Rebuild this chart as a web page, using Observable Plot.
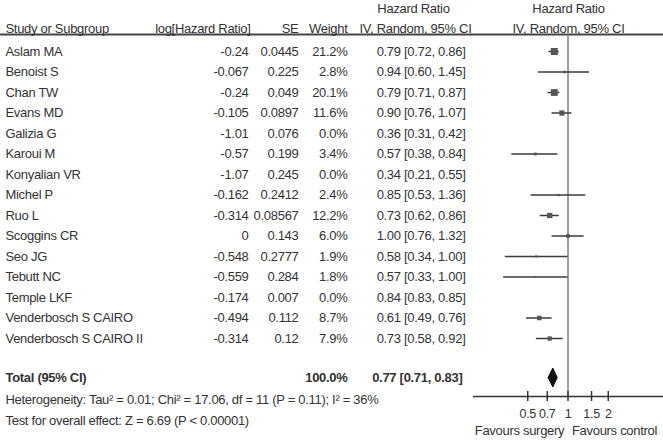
<!DOCTYPE html>
<html>
<head>
<meta charset="utf-8">
<script src="https://cdn.jsdelivr.net/npm/d3@7"></script>
<script src="https://cdn.jsdelivr.net/npm/@observablehq/plot@0.6"></script>
<style>
  html, body { margin: 0; padding: 0; background: #fff; }
  #chart svg { display: block; }
</style>
</head>
<body>
<div id="chart"></div>
<script>
// ---- data ----
const studies = ["Aslam MA", "Benoist S", "Chan TW", "Evans MD", "Galizia G", "Karoui M", "Konyalian VR", "Michel P", "Ruo L", "Scoggins CR", "Seo JG", "Tebutt NC", "Temple LKF", "Venderbosch S CAIRO", "Venderbosch S CAIRO II"];
const logHR = ["-0.24", "-0.067", "-0.24", "-0.105", "-1.01", "-0.57", "-1.07", "-0.162", "-0.314", "0", "-0.548", "-0.559", "-0.174", "-0.494", "-0.314"];
const se = ["0.0445", "0.225", "0.049", "0.0897", "0.076", "0.199", "0.245", "0.2412", "0.08567", "0.143", "0.2777", "0.284", "0.007", "0.112", "0.12"];
const weight = [21.2, 2.8, 20.1, 11.6, 0.0, 3.4, 0.0, 2.4, 12.2, 6.0, 1.9, 1.8, 0.0, 8.7, 7.9];
const hr = [0.79, 0.94, 0.79, 0.90, 0.36, 0.57, 0.34, 0.85, 0.73, 1.00, 0.58, 0.57, 0.84, 0.61, 0.73];
const lo = [0.72, 0.60, 0.71, 0.76, 0.31, 0.38, 0.21, 0.53, 0.62, 0.76, 0.34, 0.33, 0.83, 0.49, 0.58];
const hi = [0.86, 1.45, 0.87, 1.07, 0.42, 0.84, 0.55, 1.36, 0.86, 1.32, 1.00, 1.00, 0.85, 0.76, 0.92];
const total = {label: "Total (95% CI)", weight: 100.0, hr: 0.77, lo: 0.71, hi: 0.83};
const heterogeneity = "Heterogeneity: Tau\u00B2 = 0.01; Chi\u00B2 = 17.06, df = 11 (P = 0.11); I\u00B2 = 36%";
const overall = "Test for overall effect: Z = 6.69 (P < 0.00001)";
const xTicks = [0.5, 0.7, 1, 1.5, 2];
const favours = ["Favours surgery", "Favours control"];
const headers = {study: "Study or Subgroup", logHR: "log[Hazard Ratio]", se: "SE", weight: "Weight", hr1: "Hazard Ratio", hr2: "IV, Random, 95% CI"};

// ---- layout ----
const W = 663, H = 440;
const FONT = "'Liberation Sans', Arial, sans-serif";
const FS = 13;
const INK = "#333";
const row0 = 51, step = 20.5;              // pixel centre of row 0 and row spacing
const rowAt = px => (px - row0) / step;       // convert a pixel y to row units
const mLeft = 474, mRight = 2, mTop = 35, mBottom = 44;
const axisRow = rowAt(H - mBottom);

const rows = studies.map((s, i) => ({
  i, study: s, logHR: logHR[i], se: se[i], weight: weight[i],
  hr: hr[i], lo: lo[i], hi: hi[i],
  w: weight[i].toFixed(1) + "%",
  ci: `${hr[i].toFixed(2)} [${lo[i].toFixed(2)}, ${hi[i].toFixed(2)}]`
}));
const plotted = rows.filter(d => d.weight > 0);
const totalRow = rowAt(377);
const dHalf = 9.5 / step;
const diamond = [
  {x: total.lo, y: totalRow}, {x: total.hr, y: totalRow - dHalf},
  {x: total.hi, y: totalRow}, {x: total.hr, y: totalRow + dHalf}, {x: total.lo, y: totalRow}
];

// text helper: place text at pixel column px (relative to the frame's left edge)
const col = (data, opts, px) => Plot.text(data, {frameAnchor: "left", dx: px - mLeft, fill: INK, fontSize: FS, ...opts});

const hdr1 = rowAt(8), hdr2 = rowAt(28);
const chart = Plot.plot({
  width: W, height: H,
  marginLeft: mLeft, marginRight: mRight, marginTop: mTop, marginBottom: mBottom,
  style: {fontFamily: FONT, fontSize: FS + "px", letterSpacing: "-0.3px", color: INK, background: "#fff", overflow: "visible"},
  x: {type: "log", domain: [0.2, 5], axis: null},
  y: {domain: [0, 14], range: [row0, row0 + 14 * step], axis: null},
  r: {type: "sqrt", domain: [0, 21.2], range: [0, 7 / Math.sqrt(Math.PI)]},
  marks: [
    // header rule across the whole width
    Plot.ruleY([rowAt(34)], {stroke: "#444", strokeWidth: 2, insetLeft: -mLeft, insetRight: -mRight}),
    // headers
    col([headers.study], {y: () => hdr2, text: d => d, textAnchor: "start"}, 5),
    col([headers.logHR], {y: () => hdr2, text: d => d, textAnchor: "end"}, 250),
    col([headers.se], {y: () => hdr2, text: d => d, textAnchor: "end"}, 298),
    col([headers.weight], {y: () => hdr2, text: d => d, textAnchor: "end"}, 347),
    col([headers.hr1], {y: () => hdr1, text: d => d, textAnchor: "middle"}, 413),
    col([headers.hr2], {y: () => hdr2, text: d => d, textAnchor: "middle"}, 415),
    col([headers.hr1], {y: () => hdr1, text: d => d, textAnchor: "middle"}, 568),
    col([headers.hr2], {y: () => hdr2, text: d => d, textAnchor: "middle"}, 568),
    // study rows
    col(rows, {y: "i", text: "study", textAnchor: "start"}, 5),
    col(rows, {y: "i", text: "logHR", textAnchor: "end"}, 248),
    col(rows, {y: "i", text: "se", textAnchor: "end"}, 298),
    col(rows, {y: "i", text: "w", textAnchor: "end"}, 347),
    col(rows, {y: "i", text: "ci", textAnchor: "end"}, 465),
    // total row
    col([total], {y: () => totalRow, text: d => d.label, textAnchor: "start", fontWeight: "bold"}, 5),
    col([total], {y: () => totalRow, text: d => d.weight.toFixed(1) + "%", textAnchor: "end", fontWeight: "bold"}, 347),
    col([total], {y: () => totalRow, text: d => `${d.hr.toFixed(2)} [${d.lo.toFixed(2)}, ${d.hi.toFixed(2)}]`, textAnchor: "end", fontWeight: "bold"}, 462),
    col([heterogeneity], {y: () => rowAt(399), text: d => d, textAnchor: "start", letterSpacing: "-0.5px"}, 5),
    col([overall], {y: () => rowAt(420), text: d => d, textAnchor: "start"}, 5),
    // null line
    Plot.ruleX([1], {stroke: "#8a8a8a", strokeWidth: 1.6}),
    // CIs and squares
    Plot.ruleY(plotted, {y: "i", x1: "lo", x2: "hi", stroke: "#3a3a3a", strokeWidth: 1.5}),
    Plot.dot(plotted, {x: "hr", y: "i", r: "weight", symbol: "square", fill: "#555", stroke: "none"}),
    // pooled diamond
    Plot.line(diamond, {x: "x", y: "y", fill: "#111", stroke: "#111", strokeWidth: 1}),
    // axis
    Plot.ruleY([axisRow], {stroke: "#333", strokeWidth: 1.5, insetLeft: -1, insetRight: -mRight}),
    Plot.ruleX(xTicks, {x: d => d, y1: axisRow - 5 / step, y2: axisRow + 5 / step, stroke: "#333", strokeWidth: 1.5}),
    Plot.text(xTicks, {x: d => d, y: () => rowAt(413), text: d => String(d), fill: INK, fontSize: 12.5, letterSpacing: "-0.6px"}),
    col([favours[0]], {y: () => rowAt(430), text: d => d, textAnchor: "middle"}, 519),
    col([favours[1]], {y: () => rowAt(430), text: d => d, textAnchor: "middle"}, 614)
  ]
});
document.getElementById("chart").appendChild(chart);
</script>
</body>
</html>
